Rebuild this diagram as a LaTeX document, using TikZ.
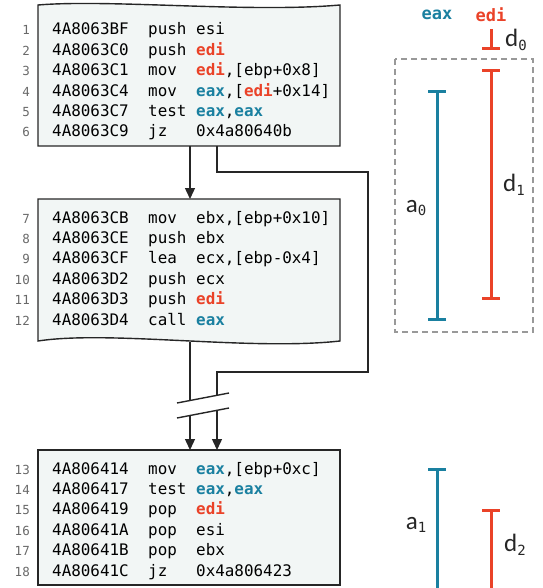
\documentclass[tikz,border=0pt]{standalone}
\usepackage{fontspec}
\setmainfont{Carlito}
\setmonofont{DejaVu Sans Mono}
\usetikzlibrary{arrows.meta}

\definecolor{regA}{RGB}{26,128,160}
\definecolor{regD}{RGB}{234,66,40}
\definecolor{blockfill}{RGB}{242,246,245}
\definecolor{numgray}{RGB}{105,105,105}
\newcommand{\ra}[1]{\textbf{\textcolor{regA}{#1}}}
\newcommand{\rd}[1]{\textbf{\textcolor{regD}{#1}}}
\newcommand{\asmline}[3]{\makebox[96pt][l]{#1}\makebox[48pt][l]{#2}#3}
\newcommand{\lbl}[2]{#1\raisebox{-0.3ex}{\fontsize{14}{15}\ttfamily #2}}

\begin{document}
\begin{tikzpicture}[x=1pt,y=-1pt,
    block/.style={draw=black!85, fill=blockfill, line width=1.4pt},
    code/.style={anchor=base west, inner sep=0pt, font=\fontsize{15.9}{18}\ttfamily},
    num/.style={anchor=base east, inner sep=0pt, text=numgray, font=\fontsize{12.5}{14}\ttfamily},
    flow/.style={line width=1.4pt, draw=black!85},
    tip/.style={-{Triangle[width=10pt,length=11pt]}},
    span/.style={line width=3pt},
    lab/.style={inner sep=0pt, font=\fontsize{25}{27}\selectfont, text=black!85}]
  \useasboundingbox (0,0) rectangle (542,588);

  % blocks
  \draw[block] (38,5) .. controls (110,-1) and (250,13) .. (340,5) -- (340,146) -- (38,146) -- cycle;
  \draw[block] (38,199) -- (340,199) -- (340,341) .. controls (250,351) and (110,330) .. (38,341) -- cycle;
  \draw[block] (38,450) rectangle (340,585);

  % code lines
  \foreach \n/\a/\m/\o [count=\i from 0] in {
      1/4A8063BF/push/esi,
      2/4A8063C0/push/{\rd{edi}},
      3/4A8063C1/mov/{\rd{edi},[ebp+0x8]},
      4/4A8063C4/mov/{\ra{eax},[\rd{edi}+0x14]},
      5/4A8063C7/test/{\ra{eax},\ra{eax}},
      6/4A8063C9/jz/0x4a80640b} {
    \node[num] (n\n) at (30,35+20.4*\i) {\n};
    \node[code] (r\n) at (52,35+20.4*\i) {\asmline{\a}{\m}{\o}};
  }
  \foreach \n/\a/\m/\o [count=\i from 0] in {
      7/4A8063CB/mov/{ebx,[ebp+0x10]},
      8/4A8063CE/push/ebx,
      9/4A8063CF/lea/{ecx,[ebp-0x4]},
      10/4A8063D2/push/ecx,
      11/4A8063D3/push/{\rd{edi}},
      12/4A8063D4/call/{\ra{eax}}} {
    \node[num] (n\n) at (30,223+20.4*\i) {\n};
    \node[code] (r\n) at (52,223+20.4*\i) {\asmline{\a}{\m}{\o}};
  }
  \foreach \n/\a/\m/\o [count=\i from 0] in {
      13/4A806414/mov/{\ra{eax},[ebp+0xc]},
      14/4A806417/test/{\ra{eax},\ra{eax}},
      15/4A806419/pop/{\rd{edi}},
      16/4A80641A/pop/esi,
      17/4A80641B/pop/ebx,
      18/4A80641C/jz/0x4a806423} {
    \node[num] (n\n) at (30,474+20.4*\i) {\n};
    \node[code] (r\n) at (52,474+20.4*\i) {\asmline{\a}{\m}{\o}};
  }

  % connection points
  \coordinate (out1a) at (190,146);
  \coordinate (out1b) at (217,146);
  \coordinate (in2) at (190,199);
  \coordinate (out2) at (190,342);
  \coordinate (cut1a) at (190,400.5);
  \coordinate (cut1b) at (217,395.3);
  \coordinate (cut2a) at (190,415.5);
  \coordinate (cut2b) at (217,410.3);
  \coordinate (in3a) at (190,450);
  \coordinate (in3b) at (217,450);

  % flow
  \draw[flow, tip] (out1a) -- (in2);
  \draw[flow] (out2) -- (cut1a);
  \draw[flow] (out1b) |- (368,172) |- (217,372) -- (cut1b);
  \draw[flow] (177,403) -- (229,393);
  \draw[flow] (177,418) -- (229,408);
  \draw[flow, tip] (cut2a) -- (in3a);
  \draw[flow, tip] (cut2b) -- (in3b);

  % live ranges
  \node[inner sep=0pt, font=\fontsize{17}{18}\ttfamily\bfseries, text=regA] (eax) at (437,15) {eax};
  \node[inner sep=0pt, font=\fontsize{17}{18}\ttfamily\bfseries, text=regD] (edi) at (491,15) {edi};
  \draw[draw=black!40, dashed, dash pattern=on 6pt off 4pt, line width=1.5pt] (395,59) rectangle (533,332);
  \draw[span, regD, -{Bar[width=18pt]}] (491,29) -- (491,50);
  \draw[span, regD, {Bar[width=18pt]}-{Bar[width=18pt]}] (491,69) -- (491,300);
  \draw[span, regA, {Bar[width=18pt]}-{Bar[width=18pt]}] (437,90) -- (437,321);
  \draw[span, regA, {Bar[width=18pt]}-] (437,468) -- (437,588);
  \draw[span, regD, {Bar[width=18pt]}-] (491,509) -- (491,588);
  \node[lab] (d0) at (516,40) {\lbl{d}{0}};
  \node[lab] (d1) at (514,185) {\lbl{d}{1}};
  \node[lab] (a0) at (416,208) {\lbl{a}{0}};
  \node[lab] (a1) at (416,525) {\lbl{a}{1}};
  \node[lab] (d2) at (515,545) {\lbl{d}{2}};
\end{tikzpicture}
\end{document}
